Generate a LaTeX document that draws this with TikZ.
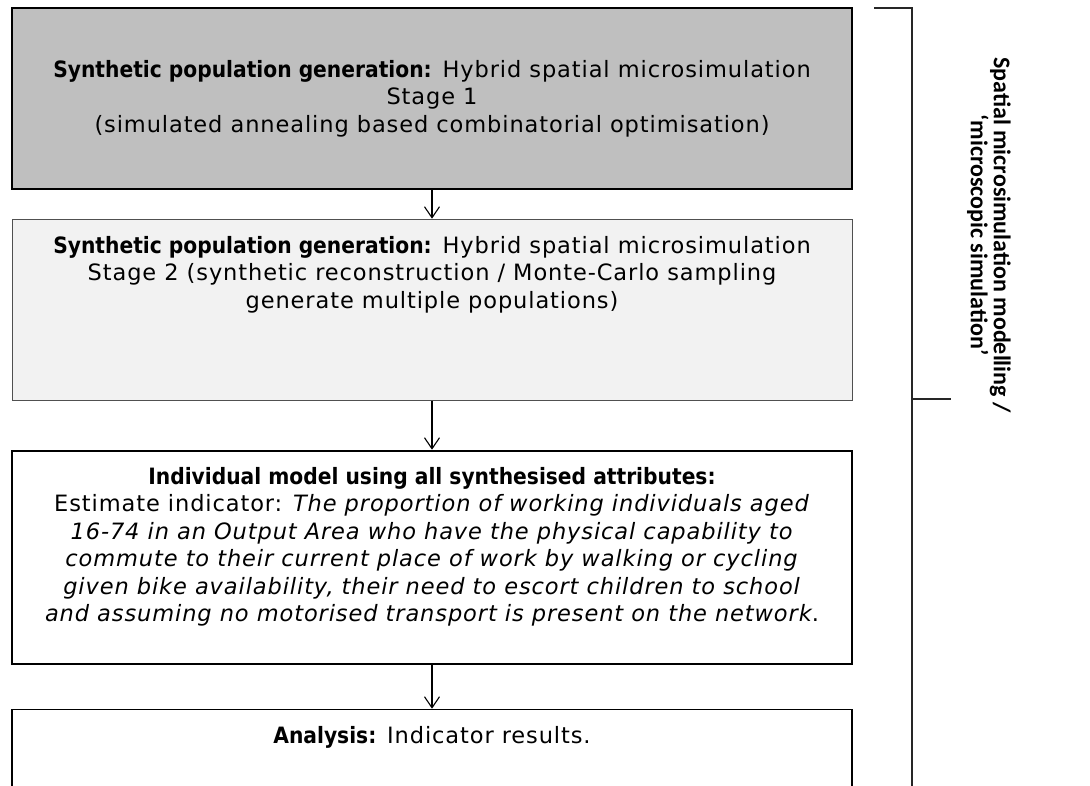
\documentclass[tikz,border=0pt]{standalone}
\usepackage{fontspec}
\setmainfont{DejaVu Sans}[LetterSpace=4, BoldFont={DejaVu Sans Condensed Bold}, BoldFeatures={LetterSpace=0}]
\newfontfamily\sidefont{Carlito}
\usetikzlibrary{positioning,arrows.meta}
\definecolor{stageone}{HTML}{BFBFBF}
\definecolor{stagetwo}{HTML}{F2F2F2}
\definecolor{edgegrey}{HTML}{505050}

\begin{document}
\begin{tikzpicture}[x=1pt, y=-1pt,
    every node/.style = {align=center, inner sep=0pt, font=\fontsize{22.5}{27.5}\selectfont},
    box/.style = {draw, rectangle, minimum width=840pt},
    boxtext/.style = {below=17pt of #1.north},
    flow/.style = {draw, line width=1.1pt, -{Straight Barb[length=11pt,width=15pt]}},
    brace/.style = {draw=black!85, line width=1.4pt}]
    \clip (0,0) rectangle (1090,785);
    \fill[white] (0,0) rectangle (1090,785);
    \node[box, fill=stageone, line width=1.4pt, minimum height=181pt] (stage1) at (432,98.5)
        {\textbf{Synthetic population generation:} Hybrid spatial microsimulation\\
         Stage 1\\
         (simulated annealing based combinatorial optimisation)};
    \node[box, fill=stagetwo, draw=edgegrey, line width=1pt, minimum height=181pt, below=29pt of stage1] (stage2) {};
    \node[boxtext=stage2] (stage2txt)
        {\textbf{Synthetic population generation:} Hybrid spatial microsimulation\\
         Stage 2 (synthetic reconstruction / Monte-Carlo sampling\\
         generate multiple populations)};
    \node[box, line width=2pt, minimum height=213pt, below=49pt of stage2] (model) {};
    \node[boxtext=model] (modeltxt)
        {\textbf{Individual model using all synthesised attributes:}\\
         Estimate indicator: \textit{The proportion of working individuals aged}\\
         \textit{16-74 in an Output Area who have the physical capability to}\\
         \textit{commute to their current place of work by walking or cycling}\\
         \textit{given bike availability, their need to escort children to school}\\
         \textit{and assuming no motorised transport is present on the network}.};
    \node[box, line width=1.4pt, minimum height=140pt, below=44pt of model] (analysis) {};
    \node[boxtext=analysis] (analysistxt) {\textbf{Analysis:} Indicator results.};
    \draw[flow] (stage1) -- (stage2);
    \draw[flow] (stage2) -- (model);
    \draw[flow] (model) -- (analysis);
    \coordinate (bracetop) at (874,8);
    \coordinate (bracecorner) at (912,8);
    \coordinate (braceend) at (912,800);
    \coordinate (bracemid) at (912,399);
    \coordinate (bracetick) at (951,399);
    \draw[brace] (bracetop) -- (bracecorner) -- (braceend);
    \draw[brace] (bracemid) -- (bracetick);
    \node[rotate=-90, font=\sidefont\bfseries\fontsize{24}{23}\selectfont] (scope) at (989,235)
        {Spatial microsimulation modelling /\\ ‘microscopic simulation’};
\end{tikzpicture}
\end{document}
